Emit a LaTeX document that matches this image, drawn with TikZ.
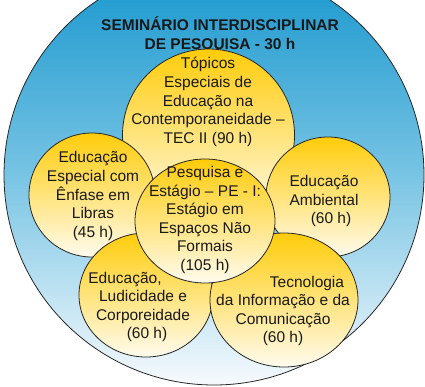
\documentclass[tikz,border=0pt]{standalone}
\usepackage{fontspec}
\setmainfont{Liberation Sans}
\usepackage{xcolor}
\usepackage{tikz}
\usetikzlibrary{shapes.geometric}
\usetikzlibrary{positioning}

\definecolor{skytop}{RGB}{22,150,205}
\definecolor{skymid}{RGB}{120,196,228}
\definecolor{skybot}{RGB}{246,250,253}
\definecolor{goldtop}{RGB}{255,204,10}
\definecolor{goldbot}{RGB}{255,251,238}

\begin{document}
\begin{tikzpicture}[x=1pt, y=-1pt,
        blob/.style={ellipse, draw=black!85, line width=0.8pt, inner sep=0pt,
            top color=goldtop, bottom color=goldbot},
        txt/.style={align=center, text=black!90, inner sep=0pt,
            font=\fontsize{15.5}{18.6}\selectfont}]
            \useasboundingbox (0,0) rectangle (425,386);
            % outer ring
            \node[circle, draw=black!85, line width=0.8pt, minimum size=420pt,
                top color=skytop, bottom color=skybot, middle color=skymid] (sem) at (214,175) {};
            \node[txt, font=\bfseries\fontsize{15.5}{19}\selectfont] (semT) at (220,35)
                {SEMINÁRIO INTERDISCIPLINAR\\DE PESQUISA - 30 h};
            
            \node[blob, minimum width=172pt, minimum height=172pt] (tec) at (208.5,135) {};
            \node[blob, minimum width=126pt, minimum height=124pt] (esp) at (92,195) {};
            \node[blob, minimum width=124pt, minimum height=120pt] (amb) at (328,197) {};
            \node[blob, minimum width=134pt, minimum height=124pt] (lud) at (146,295) {};
            \node[blob, minimum width=148pt, minimum height=134pt] (tic) at (284,300) {};
            \node[blob, minimum width=140pt, minimum height=124pt] (pe) at (205,221) {};
            
            % texts
            \node[txt] (tecT) at (208,102) {Tópicos\\Especiais de\\Educação na\\Contemporaneidade --\\TEC II (90 h)};
            \node[txt] (espT) at (93,196) {Educação\\Especial com\\Ênfase em\\Libras\\(45 h)};
            \node[txt] (ambT) at (324,201) {Educação\\Ambiental\\\hspace*{14pt}(60 h)};
            \node[txt] (peT) at (205,220) {Pesquisa e\\Estágio -- PE - I:\\Estágio em\\Espaços Não\\Formais\\(105 h)};
            \node[txt] (ludT) at (143,307) {Educação,\hspace*{36pt}\\Ludicidade e\\Corporeidade\\\hspace*{8pt}(60 h)};
            \node[txt] (ticT) at (283,311) {\hspace*{48pt}Tecnologia\\da Informação e da\\Comunicação\\(60 h)};
        \end{tikzpicture}
\end{document}
